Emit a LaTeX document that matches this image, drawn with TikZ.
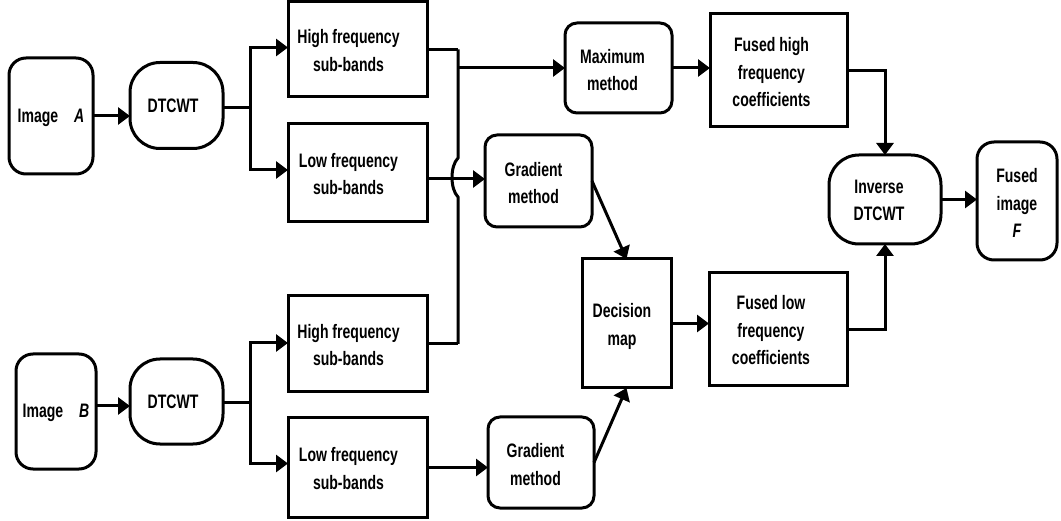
\documentclass[tikz,border=0pt]{standalone}
\usepackage{fontspec}
\setmainfont{Liberation Sans}[FakeStretch=0.72]
\usetikzlibrary{arrows.meta}
\begin{document}
\begin{tikzpicture}[x=1pt,y=-1pt,
  base/.style={draw=black, line width=3pt, inner sep=0pt, outer sep=0pt},
  sqbox/.style={base},
  rbox/.style={base, rounded corners=12pt},
  imgbox/.style={base, rounded corners=17pt},
  pill/.style={base, rounded corners=30pt},
  lbl/.style={align=center, inner sep=0pt,
    font=\fontsize{19.5}{27.5}\selectfont\bfseries},
  wire/.style={draw=black, line width=3pt},
  arr/.style={wire, -{Triangle[length=12pt,width=17pt]}}]
\useasboundingbox (0,0) rectangle (1061,521);

% inputs and forward transforms
\node[imgbox, minimum width=84pt, minimum height=116pt] (imgA) at (51,116) {};
\node[pill, minimum width=93pt, minimum height=86pt] (dtA) at (176.5,105.5) {};
\node[imgbox, minimum width=80pt, minimum height=115pt] (imgB) at (56,411.5) {};
\node[pill, minimum width=93pt, minimum height=85pt] (dtB) at (176.5,401.5) {};

% sub-bands
\node[sqbox, minimum width=139pt, minimum height=95pt] (hfA) at (357.5,49.5) {};
\node[sqbox, minimum width=139pt, minimum height=98pt] (lfA) at (357.5,173) {};
\node[sqbox, minimum width=139pt, minimum height=96pt] (hfB) at (357.5,344) {};
\node[sqbox, minimum width=139pt, minimum height=99pt] (lfB) at (357.5,467.5) {};

% fusion rules
\node[rbox, minimum width=107pt, minimum height=90pt] (maxm) at (618.5,68) {};
\node[rbox, minimum width=107pt, minimum height=92pt] (gradA) at (538.5,181) {};
\node[rbox, minimum width=106pt, minimum height=91pt] (gradB) at (541,462.5) {};
\node[sqbox, minimum width=89pt, minimum height=129pt] (dec) at (626.5,323.5) {};

% fused coefficients and reconstruction
\node[sqbox, minimum width=137pt, minimum height=113pt] (fh) at (778.5,70.5) {};
\node[sqbox, minimum width=138pt, minimum height=113pt] (fl) at (778,329.5) {};
\node[pill, minimum width=112pt, minimum height=89pt] (inv) at (885,199.5) {};
\node[imgbox, minimum width=80pt, minimum height=118pt] (fimg) at (1017,201) {};

% box captions (set slightly left of each box centre)
\node[lbl] (imgA-t) at ([yshift=-2pt]imgA.center) {Image\hspace{16pt}\textit{A}};
\node[lbl] (dtA-t) at ([xshift=-3.5pt]dtA.center) {DTCWT};
\node[lbl] (imgB-t) at ([yshift=-1pt]imgB.center) {Image\hspace{16pt}\textit{B}};
\node[lbl] (dtB-t) at ([xshift=-3.5pt]dtB.center) {DTCWT};
\node[lbl] (hfA-t) at ([xshift=-9pt,yshift=-1pt]hfA.center) {High frequency\\sub-bands};
\node[lbl] (lfA-t) at ([xshift=-9pt,yshift=-1pt]lfA.center) {Low frequency\\sub-bands};
\node[lbl] (hfB-t) at ([xshift=-9pt,yshift=-1pt]hfB.center) {High frequency\\sub-bands};
\node[lbl] (lfB-t) at ([xshift=-9pt,yshift=-1pt]lfB.center) {Low frequency\\sub-bands};
\node[lbl] (maxm-t) at ([xshift=-6pt,yshift=-2pt]maxm.center) {Maximum\\method};
\node[lbl] (gradA-t) at ([xshift=-5pt,yshift=-2pt]gradA.center) {Gradient\\method};
\node[lbl] (gradB-t) at ([xshift=-5.5pt,yshift=-2pt]gradB.center) {Gradient\\method};
\node[lbl] (dec-t) at ([xshift=-4.5pt,yshift=-3pt]dec.center) {Decision\\map};
\node[lbl] (fh-t) at ([xshift=-7pt,yshift=-2pt]fh.center) {Fused high\\frequency\\coefficients};
\node[lbl] (fl-t) at ([xshift=-7pt,yshift=-1pt]fl.center) {Fused low\\frequency\\coefficients};
\node[lbl] (inv-t) at ([xshift=-6pt,yshift=-1pt]inv.center) {Inverse\\DTCWT};
\node[lbl] (fimg-t) at ([yshift=-2pt]fimg.center) {Fused\\image\\\textit{F}};

% branch points
\coordinate (jA) at (250,107.5);
\coordinate (jB) at (250,403);
\coordinate (busT) at (458,49.5);
\coordinate (busB) at (458,344);
\coordinate (hopT) at (458,158);
\coordinate (hopB) at (458,197);

% image -> DTCWT
\draw[arr] (imgA.east) -- (imgA.east -| dtA.west);
\draw[arr] ([yshift=5.5pt]imgB.east) -- ([yshift=5.5pt]imgB.east -| dtB.west);

% DTCWT -> sub-bands
\draw[wire] (dtA.east |- jA) -- (jA);
\draw[arr] (jA) |- ([yshift=2pt]hfA.west);
\draw[arr] (jA) |- ([yshift=3pt]lfA.west);
\draw[wire] (dtB.east |- jB) -- (jB);
\draw[arr] (jB) |- ([yshift=1pt]hfB.west);
\draw[arr] (jB) |- ([yshift=4pt]lfB.west);

% high-frequency bus with a hop over the low-frequency line
\draw[wire] (hfA.east) -- (busT);
\draw[wire] (hfB.east) -- (busB);
\draw[wire] (busT) -- (hopT) .. controls (450,166) and (450,189) .. (hopB) -- (busB);
\draw[arr] (busT |- maxm.west) -- (maxm.west);

% low-frequency paths
\draw[arr] ([yshift=2pt]lfA.east |- gradA.west) -- ([yshift=2pt]gradA.west);
\draw[arr] (lfB.east) -- (lfB.east -| gradB.west);
\draw[arr] (gradA.east) -- (dec.north);
\draw[arr] (gradB.east) -- (dec.south);

% fused coefficients -> inverse transform -> output
\draw[arr] (maxm.east) -- (maxm.east -| fh.west);
\draw[arr] (dec.east) -- (dec.east -| fl.west);
\draw[arr] (fh.east) -| (inv.north);
\draw[arr] (fl.east) -| (inv.south);
\draw[arr] (inv.east) -- (inv.east -| fimg.west);
\end{tikzpicture}
\end{document}
